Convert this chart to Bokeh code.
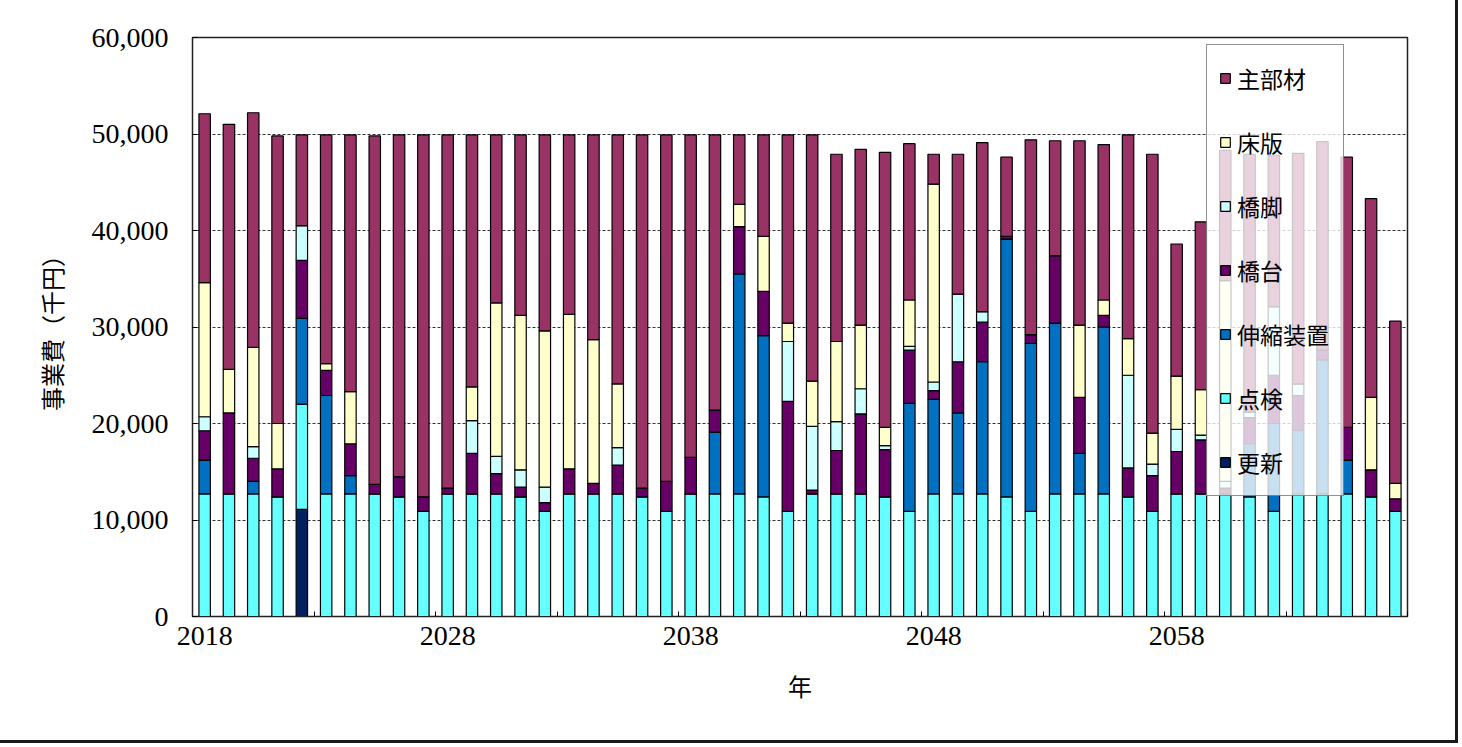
from bokeh.plotting import figure
from bokeh.models import (Range1d, FixedTicker, NumeralTickFormatter, Legend,
                          LegendItem, ColumnDataSource)
from bokeh.embed import file_html
from bokeh.resources import INLINE

years = list(range(2018, 2068))

# 事業費（千円）
koshin = [0, 0, 0, 0, 11100, 0, 0, 0, 0, 0,
          0, 0, 0, 0, 0, 0, 0, 0, 0, 0,
          0, 0, 0, 0, 0, 0, 0, 0, 0, 0,
          0, 0, 0, 0, 0, 0, 0, 0, 0, 0,
          0, 0, 0, 0, 0, 0, 0, 0, 0, 0]
tenken = [12700, 12700, 12700, 12400, 10900, 12700, 12700, 12700, 12400, 10900,
          12700, 12700, 12700, 12400, 10900, 12700, 12700, 12700, 12400, 10900,
          12700, 12700, 12700, 12400, 10900, 12700, 12700, 12700, 12400, 10900,
          12700, 12700, 12700, 12400, 10900, 12700, 12700, 12700, 12400, 10900,
          12700, 12700, 12700, 12400, 10900, 12700, 12700, 12700, 12400, 10900]
shinshuku = [3500, 0, 1300, 0, 8900, 10200, 1900, 0, 0, 0,
             0, 0, 0, 0, 0, 0, 0, 0, 0, 0,
             0, 6400, 22800, 16700, 0, 0, 0, 0, 0, 11200,
             9800, 8400, 13700, 26700, 17400, 17700, 4200, 17300, 0, 0,
             0, 0, 0, 5500, 9100, 6600, 13900, 3500, 0, 0]
kyodai = [3050, 8400, 2400, 2900, 6000, 2600, 3300, 1000, 2100, 1500,
          600, 4200, 2100, 1000, 900, 2600, 1100, 3000, 900, 3100,
          3800, 2300, 4900, 4600, 11400, 400, 4500, 8300, 4900, 5500,
          900, 5300, 4100, 300, 900, 7000, 5800, 1200, 3000, 3700,
          4400, 5600, 600, 2700, 5000, 3600, 1000, 3400, 2800, 1300]
kyokyaku = [1450, 0, 1200, 0, 3600, 0, 0, 0, 0, 0,
            0, 3400, 1800, 1800, 1600, 0, 0, 1800, 0, 0,
            0, 0, 0, 0, 6200, 6600, 3000, 2600, 400, 400,
            900, 7000, 1100, 0, 0, 0, 0, 0, 9600, 1200,
            2300, 500, 700, 600, 7100, 1200, 0, 0, 0, 0]
shoban = [13900, 4500, 10300, 4700, 0, 700, 5400, 0, 0, 0,
          0, 3500, 15900, 16000, 16200, 16000, 14900, 6600, 0, 0,
          0, 0, 2300, 5700, 1900, 4700, 8300, 6600, 1900, 4800,
          20500, 0, 0, 0, 0, 0, 7500, 1600, 3800, 3200,
          5500, 4700, 20800, 0, 0, 0, 0, 0, 7500, 1600]
shubuzai = [17500, 25400, 24300, 29800, 9400, 23700, 26600, 36100, 35400, 37500,
            36600, 26100, 17400, 18700, 20300, 18600, 21200, 25800, 36600, 35900,
            33400, 28500, 7200, 10500, 19500, 25500, 19400, 18200, 28500, 16200,
            3100, 14500, 17500, 8200, 20200, 11900, 19100, 16100, 21100, 28900,
            13700, 17400, 13500, 26700, 15700, 23900, 21600, 28000, 20600, 16800]

series_names = ["更新", "点検", "伸縮装置", "橋台", "橋脚", "床版", "主部材"]
series_keys = ["koshin", "tenken", "shinshuku", "kyodai", "kyokyaku", "shoban", "shubuzai"]
colors = ["#002060", "#66FFFF", "#0070C0", "#660066", "#CCFFFF", "#FFFFCC", "#993366"]

x_ticks = [2018, 2028, 2038, 2048, 2058]
y_ticks = [0, 10000, 20000, 30000, 40000, 50000, 60000]

source = ColumnDataSource(dict(year=years, koshin=koshin, tenken=tenken,
                               shinshuku=shinshuku, kyodai=kyodai,
                               kyokyaku=kyokyaku, shoban=shoban,
                               shubuzai=shubuzai))

W, H = 1458, 743
p = figure(width=W, height=H, output_backend="svg", toolbar_location=None,
           x_range=Range1d(2017.5, 2067.5), y_range=Range1d(0, 60000),
           min_border_left=192, min_border_right=W - 1407,
           min_border_top=37, min_border_bottom=H - 616)
p.styles = {"border-right": "3px solid #1a1a1a", "border-bottom": "3px solid #1a1a1a"}
p.background_fill_color = "white"
p.border_fill_color = "white"
p.outline_line_color = "#222222"
p.outline_line_width = 1.5

renderers = p.vbar_stack(series_keys, x="year", width=0.47, source=source,
                         color=colors, line_color="black", line_width=1.2)

# axes
p.xaxis.ticker = FixedTicker(ticks=x_ticks,
                             minor_ticks=[2017.5 + 5 * k for k in range(11)])
p.xaxis.major_tick_in = 0
p.xaxis.major_tick_out = 0
p.xaxis.minor_tick_in = 5
p.xaxis.minor_tick_out = 0
p.xaxis.minor_tick_line_color = "black"
p.xaxis.major_label_text_font = "Liberation Serif"
p.xaxis.major_label_text_font_size = "28px"
p.xaxis.major_label_text_color = "black"
p.xaxis.major_label_standoff = 10
p.xaxis.axis_label = "年"
p.xaxis.axis_label_text_font = "Noto Sans CJK JP"
p.xaxis.axis_label_text_font_size = "24px"
p.xaxis.axis_label_text_font_style = "normal"
p.xaxis.axis_label_text_color = "black"
p.xaxis.axis_label_standoff = 20
p.xaxis.axis_line_color = "#222222"

p.yaxis.ticker = FixedTicker(ticks=y_ticks)
p.yaxis.formatter = NumeralTickFormatter(format="0,0")
p.yaxis.major_tick_in = 5
p.yaxis.major_tick_out = 0
p.yaxis.minor_tick_line_color = None
p.yaxis.major_label_text_font = "Liberation Serif"
p.yaxis.major_label_text_font_size = "28px"
p.yaxis.major_label_text_color = "black"
p.yaxis.major_label_standoff = 24
p.yaxis.axis_label = "事業費（千円）"
p.yaxis.axis_label_text_font = "Noto Sans CJK JP"
p.yaxis.axis_label_text_font_size = "24px"
p.yaxis.axis_label_text_font_style = "normal"
p.yaxis.axis_label_text_color = "black"
p.yaxis.axis_label_standoff = 20
p.yaxis.axis_line_color = "#222222"

p.xgrid.grid_line_color = None
p.ygrid.grid_line_color = "#333333"
p.ygrid.grid_line_dash = "3 2"
p.ygrid.grid_line_width = 1

items = [LegendItem(label=n, renderers=[r]) for n, r in zip(series_names, renderers)]
items.reverse()
legend = Legend(items=items, location=(1014, 120), margin=0,
                padding=12, spacing=22, label_height=42, label_width=94,
                glyph_width=12, glyph_height=12, label_standoff=6,
                label_text_font="Noto Sans CJK JP", label_text_font_size="23px",
                label_text_color="black",
                background_fill_color="white", background_fill_alpha=0.78,
                border_line_color="#222222", border_line_width=1)
p.add_layout(legend)

open("out.html", "w").write(file_html(p, INLINE))
